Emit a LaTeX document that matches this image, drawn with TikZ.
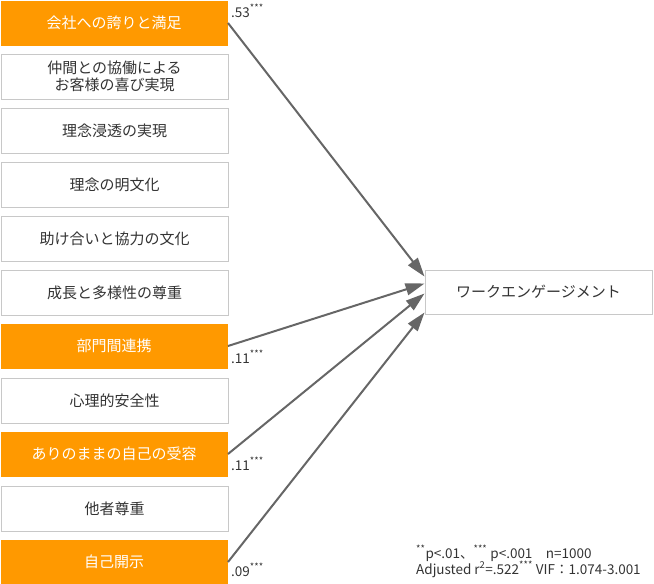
\documentclass[tikz,border=0pt]{standalone}
\usepackage{fontspec}
\setmainfont{Noto Sans CJK JP}
\usetikzlibrary{arrows.meta}
\definecolor{keyorange}{HTML}{FF9900}
\definecolor{boxgrey}{HTML}{C8C8C8}
\definecolor{linegrey}{HTML}{666666}
\definecolor{textgrey}{HTML}{333333}

\begin{document}
\begin{tikzpicture}[x=1pt,y=-1pt,
    factor/.style={draw=boxgrey, line width=1pt, fill=white, text=textgrey,
        minimum width=227pt, minimum height=45pt, inner sep=0pt,
        anchor=north west, align=center, font=\fontsize{15}{17.5}\selectfont},
    keyfactor/.style={factor, draw=none, fill=keyorange, text=white},
    effect/.style={draw=linegrey, line width=2pt, -{Triangle[length=19pt,width=12pt]}},
    coef/.style={anchor=base west, inner sep=0pt, text=textgrey,
        font=\fontsize{13.5}{15}\selectfont}]
    \useasboundingbox (0,0) rectangle (654,584);
    % predictors
    \node [keyfactor] (pride) at (0,0) {会社への誇りと満足};
    \node [factor] (cowork) at (0.5,53.5) {仲間との協働による\\お客様の喜び実現};
    \node [factor] (vision) at (0.5,107.5) {理念浸透の実現};
    \node [factor] (written) at (0.5,161.5) {理念の明文化};
    \node [factor] (mutual) at (0.5,215.5) {助け合いと協力の文化};
    \node [factor] (growth) at (0.5,269.5) {成長と多様性の尊重};
    \node [keyfactor] (dept) at (0,323) {部門間連携};
    \node [factor] (safety) at (0.5,377.5) {心理的安全性};
    \node [keyfactor] (accept) at (0,431) {ありのままの自己の受容};
    \node [factor] (respect) at (0.5,485.5) {他者尊重};
    \node [keyfactor] (disclose) at (0,539) {自己開示};
    % outcome
    \node [factor, minimum width=227pt, minimum height=44pt] (engage) at (424.5,269.5) {ワークエンゲージメント};
    % paths
    \draw [effect] (pride.east) -- ([yshift=15.5pt]engage.west);
    \draw [effect] (dept.east) -- ([yshift=8.5pt]engage.west);
    \draw [effect] (accept.east) -- ([yshift=-1.5pt]engage.west);
    \draw [effect] (disclose.east) -- ([yshift=-20.5pt]engage.west);
    \node [coef] (cpride) at ([xshift=3pt,yshift=-17pt]pride.north east) {.53\textsuperscript{***}};
    \node [coef] (cdept) at ([xshift=3pt,yshift=6pt]dept.south east) {.11\textsuperscript{***}};
    \node [coef] (caccept) at ([xshift=3pt,yshift=7pt]accept.south east) {.11\textsuperscript{***}};
    \node [coef] (cdisclose) at ([xshift=3pt,yshift=9pt]disclose.south east) {.09\textsuperscript{***}};
    % notes
    \node [anchor=base west, inner sep=0pt, align=left, text=textgrey,
        font=\fontsize{13.5}{16}\selectfont] (note) at (416,574)
        {\textsuperscript{**}p<.01、\textsuperscript{***} p<.001\quad n=1000\\
         Adjusted r\textsuperscript{2}=.522\textsuperscript{***} VIF：1.074-3.001};
\end{tikzpicture}
\end{document}
